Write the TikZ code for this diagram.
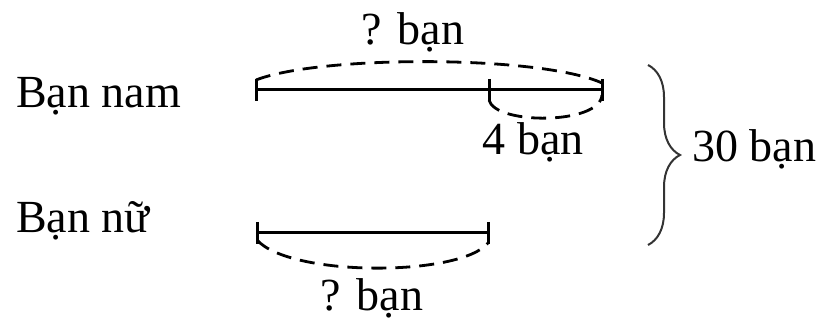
\documentclass[tikz,border=0pt]{standalone}
\usepackage{fontspec}
\setmainfont{Liberation Serif}
\usetikzlibrary{decorations.pathreplacing}
\begin{document}
\begin{tikzpicture}[
  x=1pt, y=-1pt,
  lbl/.style={inner sep=0pt, font=\fontsize{46}{55}\selectfont},
  seg/.style={line width=3pt},
  arc/.style={line width=2.8pt, dash pattern=on 15pt off 9pt},
  curly/.style={line width=2pt, draw=black!80, decorate, decoration={brace, amplitude=32pt}}
]
\useasboundingbox (0,0) rectangle (820,323);

% row labels
\node[lbl, anchor=base west] (nam) at (16,108) {Bạn nam};
\node[lbl, anchor=base west] (nu) at (16,233) {Bạn nữ};

% segment ends
\coordinate (n0) at (256,90);
\coordinate (n1) at (489,90);
\coordinate (n2) at (602,90);
\coordinate (g0) at (257,233);
\coordinate (g1) at (488,233);

\draw[seg] (n0) -- (n2);
\draw[seg] (g0) -- (g1);
\foreach \p in {n0,n1,n2,g0,g1}
  \draw[seg] ([yshift=11pt]\p) -- ([yshift=-11pt]\p);

% dashed arcs
\draw[arc] ([yshift=10pt]n0) .. controls (320,55) and (540,55) .. ([yshift=7pt]n2);
\draw[arc] ([yshift=-10pt]n1) .. controls (495,125) and (600,125) .. ([yshift=-5pt]n2);
\draw[arc] ([yshift=-7pt]g0) .. controls (290,277) and (460,277) .. ([yshift=-10pt]g1);

\node[lbl, anchor=base] (hoinam) at (413,45) {? bạn};
\node[lbl, anchor=base] (bon) at (533,155) {4 bạn};
\node[lbl, anchor=base] (hoinu) at (372,311) {? bạn};

% total
\coordinate (btop) at (648,65);
\coordinate (bbot) at (648,245);
\draw[curly] (btop) -- (bbot);
\node[lbl, anchor=base west] (tong) at (692,162) {30 bạn};
\end{tikzpicture}
\end{document}
